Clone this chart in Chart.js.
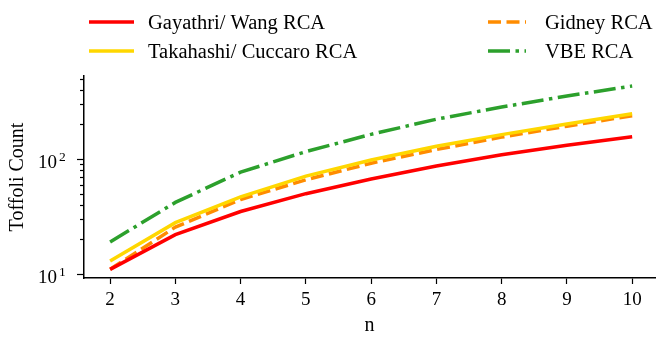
<!DOCTYPE html>
<html>
<head>
<meta charset="utf-8">
<script src="https://cdn.jsdelivr.net/npm/chart.js@4/dist/chart.umd.min.js"></script>
<style>
  html, body { margin: 0; padding: 0; background: #fff; }
  #wrap { width: 665px; height: 342px; position: relative; }
</style>
</head>
<body>
<div id="wrap"><canvas id="chart"></canvas></div>
<script>
// values
const nValues = [2, 3, 4, 5, 6, 7, 8, 9, 10];
const gayathriWang = [11, 22, 35, 50, 67, 87, 109, 132, 156];
const takahashiCuccaro = [13, 28, 47, 71, 98, 129, 163, 202, 248];
const gidney = [11, 25.6, 44.5, 66, 92, 121, 155, 193, 238];
const vbe = [19, 42, 77, 116, 164, 222, 283, 353, 431];

const xTicks = [2, 3, 4, 5, 6, 7, 8, 9, 10];
const yTicks = [10, 20, 30, 40, 50, 60, 70, 80, 90, 100, 200, 300, 400, 500];
const yMajorLabels = { 10: ['10', '1'], 100: ['10', '2'] };

const FONT = "'Liberation Serif', 'Times New Roman', serif";
const LW = 3.5;

const toPoints = ys => nValues.map((n, i) => ({ x: n, y: ys[i] }));

// legend placement: [dataset index, x, y]
const legendSlots = [[0, 89, 22], [1, 89, 51], [2, 488, 22], [3, 488, 51]];

const legendPlugin = {
  id: 'sideLegend',
  afterDraw(chart) {
    const ctx = chart.ctx;
    ctx.save();
    ctx.font = '20.5px ' + FONT;
    ctx.textBaseline = 'middle';
    legendSlots.forEach(([i, x, y]) => {
      const ds = chart.data.datasets[i];
      const len = x < 300 ? 45 : 38;
      ctx.strokeStyle = ds.borderColor;
      ctx.lineWidth = LW;
      ctx.setLineDash(ds.borderDash || []);
      ctx.beginPath();
      ctx.moveTo(x, y);
      ctx.lineTo(x + len, y);
      ctx.stroke();
      ctx.setLineDash([]);
      ctx.fillStyle = '#000';
      ctx.fillText(ds.label, x < 300 ? x + 59 : x + 57, y + 1.5);
    });
    ctx.restore();
  }
};

// log axis: tick marks (long at decades) and 10^k labels with a raised exponent
const yAxisPlugin = {
  id: 'yAxisMarks',
  afterDraw(chart) {
    const sc = chart.scales.y;
    const ctx = chart.ctx;
    ctx.save();
    ctx.strokeStyle = '#000';
    ctx.fillStyle = '#000';
    ctx.lineWidth = 1.2;
    yTicks.forEach(v => {
      const py = Math.round(sc.getPixelForValue(v)) + 0.5;
      const lab = yMajorLabels[v];
      ctx.beginPath();
      ctx.moveTo(sc.right, py);
      ctx.lineTo(sc.right - (lab ? 7 : 4), py);
      ctx.stroke();
      if (lab) {
        ctx.textBaseline = 'alphabetic';
        ctx.textAlign = 'right';
        ctx.font = '19px ' + FONT;
        ctx.fillText(lab[0], 57, py + 8);
        ctx.textAlign = 'left';
        ctx.font = '13.5px ' + FONT;
        ctx.fillText(lab[1], 59, py + 1.5);
      }
    });
    ctx.restore();
  }
};

new Chart(document.getElementById('chart'), {
  type: 'line',
  data: {
    datasets: [
      { label: 'Gayathri/ Wang RCA', data: toPoints(gayathriWang), borderColor: '#ff0000' },
      { label: 'Takahashi/ Cuccaro RCA', data: toPoints(takahashiCuccaro), borderColor: '#ffd700' },
      { label: 'Gidney RCA', data: toPoints(gidney), borderColor: '#ff8c00', borderDash: [13, 5.5] },
      { label: 'VBE RCA', data: toPoints(vbe), borderColor: '#2ca02c', borderDash: [22, 5.5, 3.5, 5.5] }
    ].map(d => Object.assign({ borderWidth: LW, pointRadius: 0, fill: false, tension: 0 }, d))
  },
  options: {
    responsive: true,
    maintainAspectRatio: false,
    animation: false,
    layout: { padding: { top: 76, right: 10, left: 0, bottom: 0 } },
    scales: {
      x: {
        type: 'linear',
        min: 1.6,
        max: 10.35,
        afterBuildTicks: s => { s.ticks = xTicks.map(v => ({ value: v })); },
        afterFit: s => { s.height = 64; },
        border: { display: true, color: '#000', width: 1.5 },
        grid: { drawOnChartArea: false, drawTicks: true, tickLength: 6, tickColor: '#000', tickWidth: 1.2 },
        ticks: { color: '#000', font: { family: FONT, size: 19 }, padding: 5, maxRotation: 0 },
        title: { display: true, text: 'n', color: '#000', font: { family: FONT, size: 20 }, padding: { top: 0 } }
      },
      y: {
        type: 'logarithmic',
        min: 9.25,
        max: 527,
        afterBuildTicks: s => { s.ticks = yTicks.map(v => ({ value: v })); },
        afterFit: s => { s.width = 84; },
        border: { display: true, color: '#000', width: 1.5 },
        grid: { drawOnChartArea: false, drawTicks: false },
        ticks: { display: false },
        title: { display: true, text: 'Toffoli Count', color: '#000', font: { family: FONT, size: 20 }, padding: { top: 6 } }
      }
    },
    plugins: {
      legend: { display: false },
      tooltip: { enabled: false }
    }
  },
  plugins: [legendPlugin, yAxisPlugin]
});
</script>
</body>
</html>
